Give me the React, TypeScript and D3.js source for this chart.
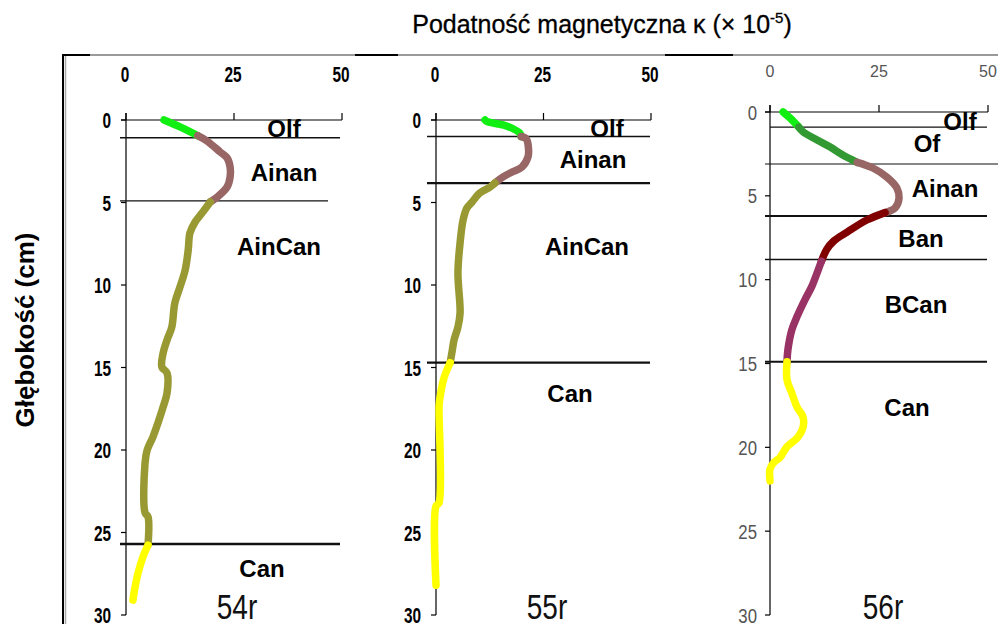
import React from 'react';
import * as d3 from 'd3';

// Magnetic susceptibility (×10^-5) against depth (cm), one segment per soil horizon.
// Each point: [depth, kappa]

// Profile 54r
const olf54 = [[0, 8.8], [0.42, 12.5], [0.95, 16.6]];
const ainan54 = [[0.95, 16.6], [1.27, 18.75], [1.94, 21.8], [2.3, 23.4], [2.85, 24.1], [3.45, 24.1], [4.06, 23.4], [4.67, 21.1], [4.97, 19.5]];
const aincan54 = [[4.97, 19.5], [5.64, 17.6], [6.18, 16.0], [6.85, 14.8], [7.88, 14.4], [9.09, 13.7], [10.12, 12.5], [11.09, 11.3], [12.55, 10.6], [13.33, 9.5], [14.12, 8.6], [14.97, 8.3], [15.33, 9.5], [16.55, 9.5], [17.39, 8.6], [18.36, 7.4], [19.2, 6.25], [20.0, 4.9], [20.8, 4.4], [23.8, 4.4], [24.06, 5.1], [25.76, 5.1]];
const can54 = [[25.76, 5.1], [26.5, 3.9], [27.45, 2.8], [28.3, 2.1], [29.1, 1.6]];
const bounds54 = [1.07, 4.9, 25.7];

// Profile 55r
const olf55 = [[0, 11.4], [0.1, 11.9], [0.3, 15.6], [0.5, 17.7], [0.8, 19.5], [1.0, 19.8]];
const ainan55 = [[1.0, 19.8], [1.15, 21.0], [1.7, 21.5], [2.24, 21.4], [2.85, 20.0], [3.15, 17.7], [3.45, 15.6], [3.82, 13.7]];
const aincan55 = [[3.82, 13.7], [4.06, 12.6], [4.42, 10.2], [4.97, 8.4], [5.33, 7.2], [6.06, 6.3], [7.45, 5.6], [9.27, 5.1], [11.7, 5.6], [12.55, 5.1], [13.33, 4.2], [14.1, 3.7], [14.7, 3.3]];
const can55 = [[14.7, 3.3], [15.6, 1.9], [16.4, 1.2], [17.2, 0.75], [17.6, 0.7], [23.2, 0.7], [23.4, 0], [28.2, 0]];
const bounds55 = [1.0, 3.82, 14.7];

// Profile 56r
const olf56 = [[0, 3.0], [0.36, 4.6], [0.9, 6.6]];
const of56 = [[0.9, 6.6], [1.19, 7.6], [1.67, 10.8], [2.09, 13.8], [2.56, 16.7], [3.0, 20.0]];
const ainan56 = [[3.0, 20.0], [3.34, 23.6], [3.88, 26.8], [4.53, 29.1], [5.13, 29.6], [5.72, 28.7], [6.0, 26.4]];
const ban56 = [[6.0, 26.4], [6.44, 22.2], [7.16, 17.7], [7.7, 14.6], [8.2, 13.0], [8.9, 11.8]];
const bcan56 = [[8.9, 11.8], [9.6, 10.8], [10.4, 9.6], [11.2, 8.0], [12.2, 6.2], [13.0, 5.0], [14.2, 4.1], [14.9, 3.9]];
const can56 = [[14.9, 3.9], [15.98, 3.9], [16.76, 5.0], [17.6, 6.2], [18.2, 7.6], [18.8, 7.6], [19.4, 6.4], [19.97, 3.9], [20.6, 2.3], [20.9, 0.9], [21.3, 0], [22.0, 0]];
const bounds56 = [0.9, 3.1, 6.2, 8.8, 14.9];

const kappaTicks = [0, 25, 50];
const depthTicks = [0, 5, 10, 15, 20, 25, 30];

const horizonColor: Record<string, string> = {
  Olf: '#11ee11',
  Of: '#339933',
  Ainan: '#996666',
  AinCan: '#999933',
  Ban: '#800000',
  BCan: '#993366',
  Can: '#ffff00',
};

const FONT = 'Liberation Sans, Arial, Helvetica, sans-serif';

type Seg = { horizon: string; pts: number[][] };
type Panel = {
  id: string;
  segs: Seg[];
  bounds: number[];
  x: [number, number];
  y: [number, number];
  boundExt: [number, number][];
  boundW: number[];
  labels: [string, number, number][];
  idPos: [number, number];
  topLabelY: number;
  dark: boolean;
};

const panels: Panel[] = [
  {
    id: '54r',
    segs: [
      { horizon: 'Olf', pts: olf54 },
      { horizon: 'Ainan', pts: ainan54 },
      { horizon: 'AinCan', pts: aincan54 },
      { horizon: 'Can', pts: can54 },
    ],
    bounds: bounds54,
    x: [126, 342],
    y: [120, 615],
    boundExt: [[120, 340], [120, 328], [120, 340]],
    boundW: [1.5, 1.2, 2.5],
    labels: [['Olf', 284, 137], ['Ainan', 284, 181], ['AinCan', 279, 255], ['Can', 262, 577]],
    idPos: [237, 619],
    topLabelY: 82,
    dark: true,
  },
  {
    id: '55r',
    segs: [
      { horizon: 'Olf', pts: olf55 },
      { horizon: 'Ainan', pts: ainan55 },
      { horizon: 'AinCan', pts: aincan55 },
      { horizon: 'Can', pts: can55 },
    ],
    bounds: bounds55,
    x: [436, 651],
    y: [120, 615],
    boundExt: [[427, 650], [427, 650], [427, 650]],
    boundW: [1.5, 2.2, 2.2],
    labels: [['Olf', 607, 137], ['Ainan', 593, 168], ['AinCan', 587, 255], ['Can', 570, 402]],
    idPos: [547, 619],
    topLabelY: 82,
    dark: true,
  },
  {
    id: '56r',
    segs: [
      { horizon: 'Olf', pts: olf56 },
      { horizon: 'Of', pts: of56 },
      { horizon: 'Ainan', pts: ainan56 },
      { horizon: 'Ban', pts: ban56 },
      { horizon: 'BCan', pts: bcan56 },
      { horizon: 'Can', pts: can56 },
    ],
    bounds: bounds56,
    x: [770, 988],
    y: [112, 615],
    boundExt: [[770, 987], [765, 998], [765, 987], [765, 987], [765, 987]],
    boundW: [1.2, 1.2, 2, 1.5, 2],
    labels: [['Olf', 960, 130], ['Of', 927, 152], ['Ainan', 945, 197], ['Ban', 921, 247], ['BCan', 916, 313], ['Can', 907, 416]],
    idPos: [883, 619],
    topLabelY: 77,
    dark: false,
  },
];

function CText(props: {
  x: number; y: number; sx?: number; anchor?: string; size: number;
  weight?: string; fill?: string; baseline?: string; children: React.ReactNode;
}) {
  const { x, y, sx = 1, anchor = 'middle', size, weight = 'normal', fill = '#000', baseline, children } = props;
  return (
    <text
      transform={`translate(${x},${y}) scale(${sx},1)`}
      textAnchor={anchor}
      fontSize={size}
      fontWeight={weight}
      fill={fill}
      fontFamily={FONT}
      dominantBaseline={baseline}
    >
      {children}
    </text>
  );
}

function ProfilePanel({ p }: { p: Panel }) {
  const xs = d3.scaleLinear().domain([0, 50]).range(p.x);
  const ys = d3.scaleLinear().domain([0, 30]).range(p.y);
  const line = d3
    .line<number[]>()
    .x((d) => xs(d[1]))
    .y((d) => ys(d[0]))
    .curve(d3.curveCatmullRom.alpha(0.5));

  const axisColor = '#000';
  const tickLabelFill = p.dark ? '#000' : '#555';
  const x0 = xs(0);

  return (
    <g>
      {/* top axis line and ticks */}
      <line x1={x0 - 5} x2={xs(50)} y1={ys(0)} y2={ys(0)} stroke={axisColor} strokeWidth={1.2} />
      {kappaTicks.map((t) => (
        <line key={'tt' + t} x1={xs(t)} x2={xs(t)} y1={ys(0) - 7} y2={ys(0)} stroke={axisColor} strokeWidth={1.2} />
      ))}
      {/* depth axis */}
      <line x1={x0} x2={x0} y1={ys(0) - 7} y2={ys(30)} stroke={axisColor} strokeWidth={1.2} />
      {depthTicks.map((t) => (
        <line key={'dt' + t} x1={x0 - 5} x2={x0} y1={ys(t)} y2={ys(t)} stroke={axisColor} strokeWidth={1.2} />
      ))}
      {depthTicks.map((t) => (
        <CText
          key={'dl' + t}
          x={x0 - (p.dark ? 15 : 13)}
          y={ys(t) + (p.dark ? 8 : 7.5)}
          sx={p.dark ? 0.7 : 0.8}
          anchor="end"
          size={p.dark ? 22 : 21}
          weight={p.dark ? 'bold' : 'normal'}
          fill={tickLabelFill}
        >
          {t}
        </CText>
      ))}
      {kappaTicks.map((t) => (
        <CText
          key={'kl' + t}
          x={xs(t) - (p.dark ? 1 : 0)}
          y={p.topLabelY}
          sx={p.dark ? 0.7 : 1}
          size={p.dark ? 22 : 16}
          weight={p.dark ? 'bold' : 'normal'}
          fill={tickLabelFill}
        >
          {t}
        </CText>
      ))}

      {/* horizon boundaries */}
      {p.bounds.map((b, i) => (
        <line
          key={'b' + i}
          x1={p.boundExt[i][0]}
          x2={p.boundExt[i][1]}
          y1={ys(b)}
          y2={ys(b)}
          stroke="#111"
          strokeWidth={p.boundW[i]}
        />
      ))}

      {/* susceptibility curve */}
      {p.segs.map((s, i) => (
        <path
          key={'s' + i}
          d={line(s.pts) || ''}
          fill="none"
          stroke={horizonColor[s.horizon]}
          strokeWidth={7.5}
          strokeLinecap="round"
          strokeLinejoin="round"
        />
      ))}

      {/* horizon names */}
      {p.labels.map(([name, lx, ly]) => (
        <CText key={'n' + name} x={lx} y={ly} size={24} weight="bold">
          {name}
        </CText>
      ))}

      {/* profile id */}
      <CText x={p.idPos[0]} y={p.idPos[1]} size={35} sx={0.8} fill="#111">
        {p.id}
      </CText>
    </g>
  );
}

export default function App() {
  return (
    <svg
      width={998}
      height={624}
      viewBox="0 0 998 624"
      style={{ position: 'absolute', left: 0, top: 0, background: '#fff' }}
    >
      <rect x={0} y={0} width={998} height={624} fill="#fff" />

      {/* outer frame */}
      <line x1={62} x2={998} y1={55} y2={55} stroke="#000" strokeWidth={2} />
      {[[90, 355], [398, 665], [733, 998]].map(([a, b], i) => (
        <line key={'g' + i} x1={a} x2={b} y1={55} y2={55} stroke="#9a9a9a" strokeWidth={2.2} />
      ))}
      <line x1={63} x2={63} y1={54} y2={624} stroke="#000" strokeWidth={2} />
      <line x1={65.5} x2={65.5} y1={56} y2={624} stroke="#aaa" strokeWidth={1.5} />

      {/* title */}
      <text x={602} y={33} textAnchor="middle" fontSize={25} fontFamily={FONT} fill="#000" stroke="#000" strokeWidth={0.3}>
        Podatność magnetyczna κ (× 10
        <tspan fontSize={15} dy={-10}>-5</tspan>
        <tspan dy={10}>)</tspan>
      </text>

      {/* depth axis title */}
      <text
        transform="translate(34,330) rotate(-90)"
        textAnchor="middle"
        fontSize={26}
        fontWeight="bold"
        fontFamily={FONT}
        fill="#000"
      >
        Głębokość (cm)
      </text>

      {panels.map((p) => (
        <ProfilePanel key={p.id} p={p} />
      ))}
    </svg>
  );
}
